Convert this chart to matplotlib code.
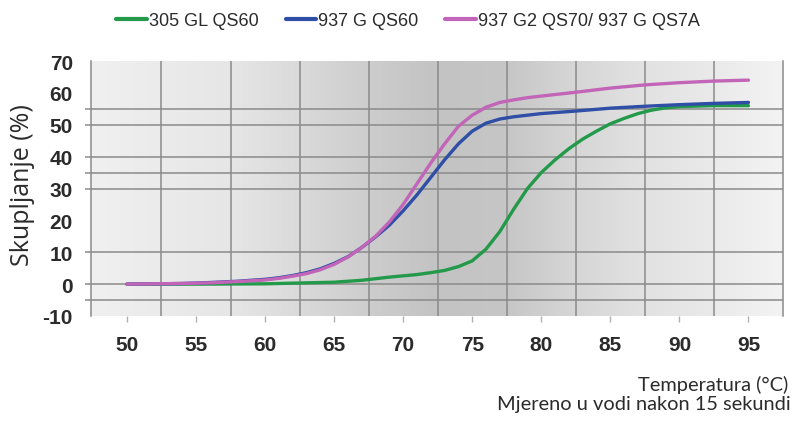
import numpy as np
import matplotlib
matplotlib.use("Agg")
import matplotlib.pyplot as plt
from matplotlib import font_manager as fm
from matplotlib.colors import LinearSegmentedColormap

# ---- data ----
temp_green = [50, 55, 60, 63, 65, 67, 68, 69, 70, 71, 72, 73, 74, 75, 76, 77, 78, 79, 80,
              81, 82, 83, 84, 85, 86, 87, 88, 89, 90, 92.5, 95]
val_green = [0, 0, 0.1, 0.4, 0.6, 1.2, 1.7, 2.2, 2.6, 3.0, 3.6, 4.3, 5.5, 7.3, 11, 16.5, 23.5,
             30, 35, 39, 42.5, 45.5, 48, 50.3, 52, 53.5, 54.6, 55.3, 55.7, 56, 56]

temp_blue = [50, 52, 54, 56, 58, 60, 61, 62, 63, 64, 65, 66, 67, 68, 69, 70, 71, 72, 73, 74,
             75, 76, 77, 78, 79, 80, 82.5, 85, 87.5, 90, 92.5, 95]
val_blue = [0, 0.1, 0.2, 0.5, 0.9, 1.5, 2, 2.7, 3.6, 4.8, 6.5, 8.6, 11.5, 14.8, 18.5, 23, 28,
            33.5, 39, 44, 48, 50.5, 51.8, 52.5, 53, 53.5, 54.3, 55.2, 55.8, 56.3, 56.7, 57]

temp_pink = [50, 52, 54, 56, 58, 60, 61, 62, 63, 64, 65, 66, 67, 68, 69, 70, 71, 72, 73, 74,
             75, 76, 77, 78, 79, 80, 82.5, 85, 87.5, 90, 92.5, 95]
val_pink = [0, 0.1, 0.2, 0.4, 0.8, 1.3, 1.8, 2.5, 3.3, 4.5, 6.2, 8.5, 11.5, 15, 19.5, 25, 31.5,
            38, 44, 49.5, 53, 55.5, 57, 57.8, 58.5, 59, 60.2, 61.5, 62.5, 63.2, 63.7, 64]

series_names = ["305 GL QS60", "937 G QS60", "937 G2 QS70/ 937 G QS7A"]
x_ticks = [50, 55, 60, 65, 70, 75, 80, 85, 90, 95]
y_ticks = [-10, 0, 10, 20, 30, 40, 50, 60, 70]
h_grid = [-5, 0, 10, 30, 35, 40, 50, 55]
v_grid = [52.5, 57.5, 62.5, 67.5, 72.5, 77.5, 82.5, 87.5, 92.5]
y_label = "Skupljanje (%)"
x_label_1 = "Temperatura (°C)"
x_label_2 = "Mjereno u vodi nakon 15 sekundi"

# ---- fonts ----
def has(f):
    try:
        fm.findfont(fm.FontProperties(family=f), fallback_to_default=False)
        return True
    except Exception:
        return False

tick_family = "Liberation Sans" if has("Liberation Sans") else "DejaVu Sans"
text_family = "Lato" if has("Lato") else "DejaVu Sans"
ylab_family = "Open Sans" if has("Open Sans") else "DejaVu Sans"

plt.rcParams["font.family"] = [tick_family, "DejaVu Sans"]
plt.rcParams["axes.unicode_minus"] = False

fig = plt.figure(figsize=(7.93, 4.31), dpi=100)
ax = fig.add_axes([91 / 793, 1 - 317 / 431, (783 - 91) / 793, (317 - 62) / 431])

xmin, xmax = 47.4, 97.5
ymin, ymax = -10, 70

# background gradient
cmap = LinearSegmentedColormap.from_list(
    "bg",
    [(0.0, "#f0f0f0"), (0.2, "#e6e6e6"), (0.3, "#dadada"), (0.4, "#cdcdcd"),
     (0.5, "#c3c3c3"), (0.6, "#c6c6c6"), (0.68, "#d3d3d3"), (0.78, "#e0e0e0"),
     (0.9, "#eaeaea"), (1.0, "#f3f3f3")])
grad = np.linspace(0, 1, 512).reshape(1, -1)
ax.imshow(grad, cmap=cmap, aspect="auto", extent=[xmin, xmax, ymin, ymax],
          zorder=0, interpolation="bilinear")

colors = ["#23994a", "#2f4fa6", "#c265b8"]
ax.plot(temp_green, val_green, color=colors[0], lw=2.4, label=series_names[0],
        solid_capstyle="round", zorder=3)
ax.plot(temp_blue, val_blue, color=colors[1], lw=2.4, label=series_names[1],
        solid_capstyle="round", zorder=4)
ax.plot(temp_pink, val_pink, color=colors[2], lw=2.4, label=series_names[2],
        solid_capstyle="round", zorder=5)

ax.set_xlim(xmin, xmax)
ax.set_ylim(ymin, ymax)

ax.xaxis.remove_overlapping_locs = False
ax.yaxis.remove_overlapping_locs = False
ax.set_xticks(x_ticks)
ax.set_xticks(v_grid, minor=True)
ax.set_yticks(y_ticks)
ax.set_yticks(h_grid, minor=True)
ax.set_axisbelow(True)
ax.grid(which="minor", axis="both", color="#8a8a8a", lw=1.1)
ax.grid(which="major", visible=False)

ax.tick_params(axis="x", which="major", length=4, width=1, color="#b0b0b0",
               pad=10, labelsize=15, labelcolor="#2b2b2b")
ax.tick_params(axis="x", which="minor", length=0)
ax.tick_params(axis="y", which="major", length=0, pad=13, labelsize=15,
               labelcolor="#2b2b2b")
ax.tick_params(axis="y", which="minor", length=4, width=1.1, color="#8a8a8a")
for lab in ax.get_xticklabels() + ax.get_yticklabels():
    lab.set_fontweight("bold")

for s in ["top", "bottom"]:
    ax.spines[s].set_visible(False)
for s in ["left", "right"]:
    ax.spines[s].set_color("#8a8a8a")
    ax.spines[s].set_linewidth(1.1)

fig.text(23 / 793, 1 - 185 / 431, y_label, rotation=90, ha="center", va="center",
         fontsize=18, family=[ylab_family, "DejaVu Sans"], color="#2b2b2b")
fig.text(788 / 793, 1 - 391 / 431, x_label_1, ha="right", va="baseline",
         fontsize=14.4, family=[text_family, "DejaVu Sans"], color="#2b2b2b")
fig.text(791 / 793, 1 - 410 / 431, x_label_2, ha="right", va="baseline",
         fontsize=14.4, family=[text_family, "DejaVu Sans"], color="#2b2b2b")

leg = fig.legend(loc="center", bbox_to_anchor=(408 / 793, 1 - 22 / 431), ncol=3,
                 frameon=False, handlelength=1.7, handletextpad=0.1,
                 columnspacing=1.5, prop={"family": [tick_family, "DejaVu Sans"],
                                          "size": 13})
for t in leg.get_texts():
    t.set_color("#2b2b2b")
for l in leg.get_lines():
    l.set_linewidth(3)

fig.savefig("out.png", dpi=100)
